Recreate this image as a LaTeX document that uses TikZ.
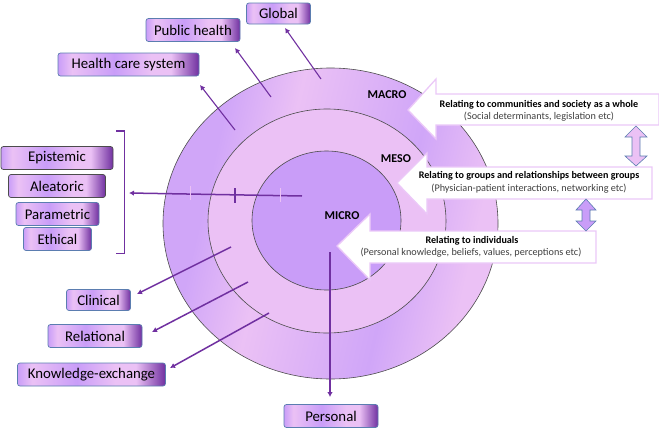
\documentclass[tikz,border=0pt]{standalone}
\usepackage{fontspec}
\setmainfont{Carlito}
\usepackage{xcolor}
\usetikzlibrary{shapes.arrows,arrows.meta}

\definecolor{lilac}{HTML}{EBC1F5}
\definecolor{mauve}{HTML}{C99DF8}
\definecolor{ringmauve}{HTML}{D0A6F8}
\definecolor{plum}{HTML}{7030A0}
\definecolor{rimblue}{HTML}{5B7DB0}
\definecolor{rimpink}{HTML}{EBC8F8}

\pgfdeclarehorizontalshading{boxshade}{100bp}{
  color(0bp)=(mauve); color(25bp)=(mauve); color(30bp)=(lilac); color(45bp)=(mauve);
  color(58bp)=(lilac); color(65bp)=(lilac); color(75bp)=(plum); color(100bp)=(plum)}
\pgfdeclarehorizontalshading{ringshade}{100bp}{
  color(0bp)=(ringmauve); color(30.5bp)=(ringmauve); color(41bp)=(lilac); color(60.5bp)=(ringmauve); color(72bp)=(lilac); color(100bp)=(lilac)}

\begin{document}
\begin{tikzpicture}[x=1pt, y=-1pt]
	% Define the styles
	\tikzset{
		levelbox/.style={rectangle, rounded corners=2.5pt, draw=rimblue, line width=0.7pt, shading=boxshade, text=black, font=\fontsize{14.8}{16}\selectfont, inner sep=0pt, minimum height=23pt},
		darkbox/.style={levelbox, draw=black!70},
		ring/.style={draw=black!70, line width=0.6pt},
		callout/.style={draw=rimpink, fill=white, line width=1.3pt},
		linkline/.style={draw=plum, line width=1.5pt},
		linkarrow/.style={linkline, -{Latex[length=5pt,width=5.5pt]}},
		thinarrow/.style={linkarrow, line width=1.1pt},
		levelname/.style={font=\fontsize{12}{14}\selectfont\bfseries, inner sep=0pt},
		headtext/.style={font=\fontsize{10.1}{12}\selectfont\bfseries, inner sep=0pt},
		subtext/.style={font=\fontsize{10.2}{12}\selectfont, text=black!75, inner sep=0pt},
		updown/.style={draw=rimblue, line width=0.6pt}
	}
	\useasboundingbox (0,0) rectangle (659,434);

	% Define the rings
	\path[ring, shading=ringshade, shading angle=-13] (330.5,223.5) ellipse [x radius=167.5, y radius=155.5];
	\path[ring, fill=lilac] (327,221) ellipse [x radius=119, y radius=112];
	\path[ring, fill=mauve] (326.5,220.5) ellipse [x radius=74.5, y radius=69.5];

	% Define the free ends
	\coordinate (tglobal) at (321,79);
	\coordinate (hglobal) at (285,28);
	\coordinate (tpublic) at (271,97);
	\coordinate (hpublic) at (235,48);
	\coordinate (thealth) at (235,130);
	\coordinate (hhealth) at (200,85);
	\coordinate (tcentre) at (302,196);
	\coordinate (hcentre) at (129,193);
	\coordinate (tclinical) at (231,247);
	\coordinate (hclinical) at (137,294);
	\coordinate (trelational) at (248,282);
	\coordinate (hrelational) at (152,332);
	\coordinate (tknow) at (269,313);
	\coordinate (hknow) at (170,368);
	\coordinate (tmicro) at (330,252);
	\coordinate (hmicro) at (330,397);

	% Define the level boxes
	\node (global) [levelbox, minimum width=64pt, minimum height=21pt] at (278.5,13.5) {Global};
	\node (public) [levelbox, minimum width=94pt] at (193,30) {Public health};
	\node (healthcare) [levelbox, minimum width=141pt] at (128.5,64.5) {Health care system};
	\node (epistemic) [darkbox, minimum width=112pt] at (57,158) {Epistemic};
	\node (aleatoric) [darkbox, minimum width=97pt] at (57,186) {Aleatoric};
	\node (parametric) [levelbox, minimum width=83pt] at (57.5,214) {Parametric};
	\node (ethical) [levelbox, minimum width=68pt] at (57.5,239) {Ethical};
	\node (clinical) [levelbox, minimum width=64pt, minimum height=21pt] at (98.5,300) {Clinical};
	\node (relational) [levelbox, minimum width=94pt] at (95,336) {Relational};
	\node (knowledge) [levelbox, minimum width=148pt] at (91.5,374.5) {Knowledge-exchange};
	\node (personal) [levelbox, minimum width=94pt] at (331,416) {Personal};

	% Define the connectors
	\draw[thinarrow] (tglobal) -- (hglobal);
	\draw[thinarrow] (tpublic) -- (hpublic);
	\draw[thinarrow] (thealth) -- (hhealth);
	\draw[linkarrow] (tcentre) -- (hcentre);
	\draw[linkarrow] (tclinical) -- (hclinical);
	\draw[linkarrow] (trelational) -- (hrelational);
	\draw[linkarrow] (tknow) -- (hknow);
	\draw[linkarrow] (tmicro) -- (hmicro);

	% Define the ticks and the bracket
	\draw[draw=lilac, line width=1pt] (190.5,186) -- (190.5,200);
	\draw[linkline] (235,188) -- (235,203);
	\draw[draw=lilac, line width=1pt] (280,188) -- (280,202);
	\draw[linkline] (116,131) -- (124.5,131) -- (124.5,253.5) -- (116,253.5);

	% Define the callouts
	\draw[callout] (659,94) -- (436,94) -- (436,79) -- (408,110) -- (436,139) -- (436,125) -- (659,125) -- cycle;
	\draw[callout] (652,167) -- (427,167) -- (427,153) -- (397,183) -- (427,214) -- (427,199) -- (652,199) -- cycle;
	\draw[callout] (596,231) -- (370,231) -- (370,214) -- (337,246) -- (370,280) -- (370,263) -- (596,263) -- cycle;

	% Define the double arrows
	\draw[updown, fill=lilac] (636,126) -- (625,137) -- (632,137) -- (632,156) -- (625,156) -- (636,166) -- (647,156) -- (640,156) -- (640,137) -- (647,137) -- cycle;
	\draw[updown, fill=mauve] (586,199) -- (576,210) -- (582,210) -- (582,221) -- (576,221) -- (586,231) -- (596,221) -- (590,221) -- (590,210) -- (596,210) -- cycle;

	% Define the labels
	\node (macro) [levelname] at (387,95) {MACRO};
	\node (meso) [levelname] at (396,159) {MESO};
	\node (micro) [levelname] at (342,216) {MICRO};
	\node (macrohead) [headtext] at (539,104.5) {Relating to communities and society as a whole};
	\node (macrosub) [subtext] at (539,117) {(Social determinants, legislation etc)};
	\node (mesohead) [headtext] at (529,176) {Relating to groups and relationships between groups};
	\node (mesosub) [subtext] at (529,188.5) {(Physician-patient interactions, networking etc)};
	\node (microhead) [headtext] at (472,240.5) {Relating to individuals};
	\node (microsub) [subtext] at (471,253) {(Personal knowledge, beliefs, values, perceptions etc)};
\end{tikzpicture}
\end{document}
